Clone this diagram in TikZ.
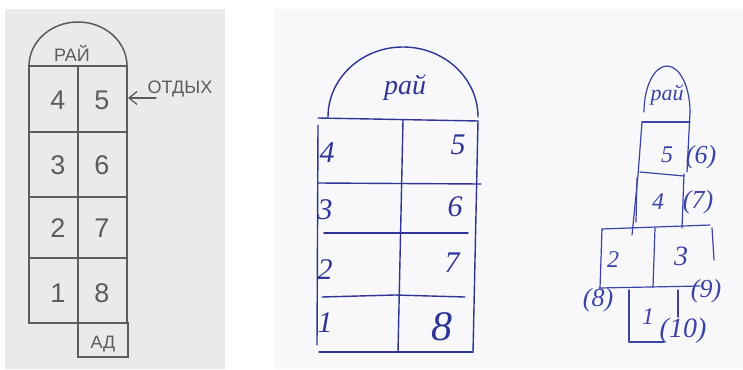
\documentclass[tikz,border=0pt]{standalone}
\usepackage{fontspec}
\setmainfont{Liberation Serif}
\newfontfamily\pencilfont{Liberation Sans}
\newfontfamily\inkfont{Liberation Serif}
\usetikzlibrary{arrows.meta}
\definecolor{pencil}{HTML}{5C5C5C}
\definecolor{ink}{HTML}{2E3596}
\definecolor{inkb}{HTML}{3A43A6}
\definecolor{paperA}{HTML}{EAEAEA}
\definecolor{paperB}{HTML}{F8F8FA}
\newcommand{\fsz}[1]{\fontsize{#1}{#1}\selectfont}
\begin{document}
\begin{tikzpicture}[x=1pt,y=-1pt,
  pline/.style={draw=pencil,line width=1.5pt,line cap=round},
  iline/.style={draw=ink,line width=1.4pt,line cap=round,line join=round},
  jline/.style={draw=inkb,line width=1.2pt,line cap=round,line join=round},
  plabel/.style={text=pencil,font=\pencilfont\fsz{27},inner sep=0pt},
  pword/.style={text=pencil,font=\pencilfont\fsz{18},inner sep=0pt},
  ilabel/.style={text=ink,font=\inkfont\itshape\fsz{30},inner sep=0pt},
  jlabel/.style={text=inkb,font=\inkfont\itshape\fsz{24},inner sep=0pt}]
\useasboundingbox (0,0) rectangle (743,369);
\fill[paperA] (5,9) rectangle (225,369);
\fill[paperB] (274,9) rectangle (743,369);

% ---------- panel 1 (pencil) ----------
\draw[pline] (29,66) rectangle (127,323);
\draw[pline] (29,132) -- (127,132);
\draw[pline] (29,197) -- (127,197);
\draw[pline] (29,258) -- (127,258);
\draw[pline] (78,66) -- (78,357);
\draw[pline] (78,323) rectangle (128,357);
\draw[pline] (29,66) arc[start angle=180,end angle=360,x radius=49,y radius=44];
\node[pword] (rai1) at (72,53) {РАЙ};
\node[plabel] (a4) at (58,100) {4};
\node[plabel] (a5) at (102,100) {5};
\node[plabel] (a3) at (58,165) {3};
\node[plabel] (a6) at (102,165) {6};
\node[plabel] (a2) at (58,228) {2};
\node[plabel] (a7) at (102,228) {7};
\node[plabel] (a1) at (58,293) {1};
\node[plabel] (a8) at (102,293) {8};
\node[pword] (ad) at (103,344) {АД};
\node[pword] (otd) at (180,89) {ОТДЫХ};
\coordinate (arrs) at (156,98);
\coordinate (arre) at (128,98);
\draw[pline,line width=1.3pt,-{Straight Barb[length=8pt,width=13pt]}] (arrs) -- (arre);

% ---------- panel 2 (blue ink) ----------
\draw[iline] (318,118) -- (478,121);
\draw[iline] (318,125) -- (317,345);
\draw[iline] (478,121) -- (473,352);
\draw[iline] (319,352) -- (473,352);
\draw[iline] (318,183) -- (481,184);
\draw[iline] (324,233) -- (468,233);
\draw[iline] (322,297) -- (395,295) -- (465,297);
\draw[iline] (403,120) -- (398,352);
\draw[iline] (328,117) arc[start angle=180,end angle=360,x radius=75,y radius=70];
\node[ilabel,font=\inkfont\itshape\fsz{28}] (rai2) at (405,88) {рай};
\node[ilabel] (b4) at (327,153) {4};
\node[ilabel] (b5) at (458,145) {5};
\node[ilabel] (b3) at (325,210) {3};
\node[ilabel] (b6) at (455,207) {6};
\node[ilabel] (b2) at (325,270) {2};
\node[ilabel] (b7) at (452,263) {7};
\node[ilabel] (b1) at (325,323) {1};
\node[ilabel,font=\inkfont\itshape\fsz{42}] (b8) at (442,327) {8};

% ---------- panel 3 (blue ink) ----------
\draw[jline] (644,112) arc[start angle=180,end angle=360,x radius=23,y radius=46];
\draw[jline] (690,112) -- (687,172);
\draw[jline] (642,122) -- (690,122);
\draw[jline] (642,122) -- (638,175) -- (632,235);
\draw[jline] (637,178) -- (636,222);
\draw[jline] (640,172) -- (684,176);
\draw[jline] (684,174) -- (682,228);
\draw[jline] (602,229) -- (710,225);
\draw[jline] (602,229) -- (600,288);
\draw[jline] (655,228) -- (653,287);
\draw[jline] (712,228) -- (714,260);
\draw[jline] (599,288) -- (700,286);
\draw[jline] (629,290) -- (629,342) -- (664,342);
\draw[jline] (678,290) -- (678,317);
\node[jlabel,font=\inkfont\itshape\fsz{22}] (rai3) at (667,95) {рай};
\node[jlabel] (c5) at (667,155) {5};
\node[jlabel,font=\inkfont\itshape\fsz{26}] (c6) at (701,157) {(6)};
\node[jlabel] (c4) at (658,202) {4};
\node[jlabel,font=\inkfont\itshape\fsz{26}] (c7) at (698,202) {(7)};
\node[jlabel] (c2) at (613,260) {2};
\node[jlabel,font=\inkfont\itshape\fsz{28}] (c3) at (681,256) {3};
\node[jlabel,font=\inkfont\itshape\fsz{26}] (c8) at (598,300) {(8)};
\node[jlabel,font=\inkfont\itshape\fsz{26}] (c9) at (706,291) {(9)};
\node[jlabel] (c1) at (648,317) {1};
\node[jlabel,font=\inkfont\itshape\fsz{28}] (c10) at (683,331) {(10)};
\end{tikzpicture}
\end{document}
